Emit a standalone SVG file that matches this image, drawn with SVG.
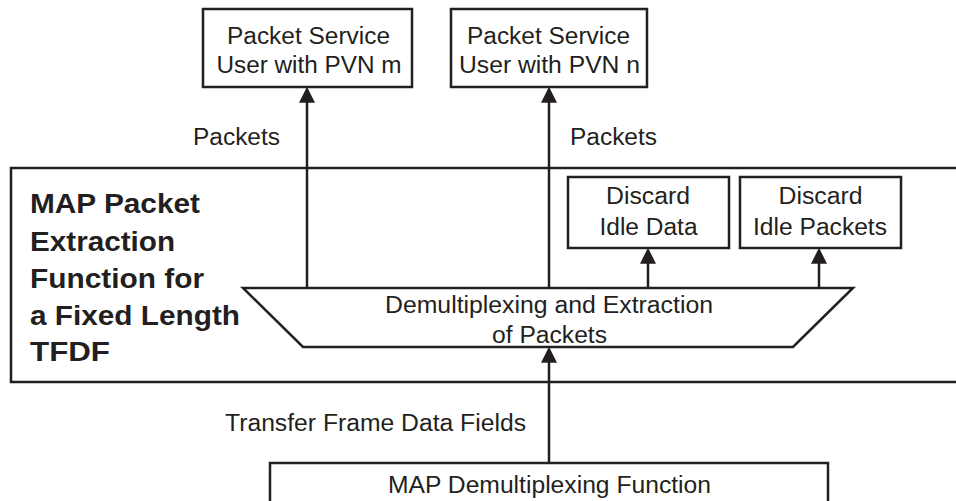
<svg xmlns="http://www.w3.org/2000/svg" width="956" height="501" viewBox="0 0 956 501">
<style>
.box{fill:#fff;stroke:#231f20;stroke-width:2.5}
.ln{fill:none;stroke:#231f20;stroke-width:2.5}
.t{font-family:"Liberation Sans",Arial,sans-serif;font-size:23px;fill:#231f20}
.c{text-anchor:middle}
.b{font-family:"Liberation Sans",Arial,sans-serif;font-size:27px;font-weight:bold;fill:#231f20}
</style>
<defs>
<marker id="ah" markerUnits="userSpaceOnUse" markerWidth="16" markerHeight="16" viewBox="0 0 15 15" refX="12" refY="7.5" orient="auto">
<path d="M0,0 L15,7.5 L0,15 z" fill="#231f20"/>
</marker>
</defs>
<rect width="956" height="501" fill="#fff"/>
<g id="map-extraction-function">
<path class="ln" d="M970 168 H11 V382 H970"/>
<text class="b" x="30" y="213" textLength="170" lengthAdjust="spacingAndGlyphs">MAP Packet</text>
<text class="b" x="30" y="251" textLength="145" lengthAdjust="spacingAndGlyphs">Extraction</text>
<text class="b" x="30" y="288" textLength="174" lengthAdjust="spacingAndGlyphs">Function for</text>
<text class="b" x="30" y="325" textLength="210" lengthAdjust="spacingAndGlyphs">a Fixed Length</text>
<text class="b" x="30" y="361" textLength="80" lengthAdjust="spacingAndGlyphs">TFDF</text>
</g>
<g id="user-m">
<rect class="box" x="203" y="9" width="209" height="78"/>
<text class="t c" x="308.5" y="44" textLength="163" lengthAdjust="spacingAndGlyphs">Packet Service</text>
<text class="t c" x="309" y="73" textLength="185" lengthAdjust="spacingAndGlyphs">User with PVN m</text>
</g>
<g id="user-n">
<rect class="box" x="451" y="9" width="196" height="78"/>
<text class="t c" x="548.5" y="44" textLength="163" lengthAdjust="spacingAndGlyphs">Packet Service</text>
<text class="t c" x="549.5" y="73" textLength="181" lengthAdjust="spacingAndGlyphs">User with PVN n</text>
</g>
<g id="discard-idle-data">
<rect class="box" x="568" y="177" width="161" height="71"/>
<text class="t c" x="648" y="204" textLength="84" lengthAdjust="spacingAndGlyphs">Discard</text>
<text class="t c" x="648.5" y="235" textLength="98" lengthAdjust="spacingAndGlyphs">Idle Data</text>
</g>
<g id="discard-idle-packets">
<rect class="box" x="740" y="177" width="161" height="71"/>
<text class="t c" x="820.5" y="204" textLength="84" lengthAdjust="spacingAndGlyphs">Discard</text>
<text class="t c" x="820" y="235" textLength="134" lengthAdjust="spacingAndGlyphs">Idle Packets</text>
</g>
<g id="demux-extraction">
<polygon class="box" points="243,288 853,288 793,347 303,347"/>
<text class="t c" x="549" y="313" textLength="328" lengthAdjust="spacingAndGlyphs">Demultiplexing and Extraction</text>
<text class="t c" x="549.5" y="343" textLength="115" lengthAdjust="spacingAndGlyphs">of Packets</text>
</g>
<g id="map-demux-function">
<path class="box" d="M270 520 V463 H828 V520"/>
<text class="t c" x="549.5" y="493" textLength="323" lengthAdjust="spacingAndGlyphs">MAP Demultiplexing Function</text>
</g>
<g id="connectors">
<line class="ln" x1="307" y1="288" x2="307" y2="90" marker-end="url(#ah)"/>
<line class="ln" x1="549" y1="288" x2="549" y2="90" marker-end="url(#ah)"/>
<line class="ln" x1="648" y1="288" x2="648" y2="251" marker-end="url(#ah)"/>
<line class="ln" x1="819" y1="288" x2="819" y2="251" marker-end="url(#ah)"/>
<line class="ln" x1="549" y1="463" x2="549" y2="350" marker-end="url(#ah)"/>
<text class="t" x="193" y="145" textLength="87" lengthAdjust="spacingAndGlyphs">Packets</text>
<text class="t" x="570" y="145" textLength="87" lengthAdjust="spacingAndGlyphs">Packets</text>
<text class="t" x="225" y="431" textLength="301" lengthAdjust="spacingAndGlyphs">Transfer Frame Data Fields</text>
</g>
</svg>
